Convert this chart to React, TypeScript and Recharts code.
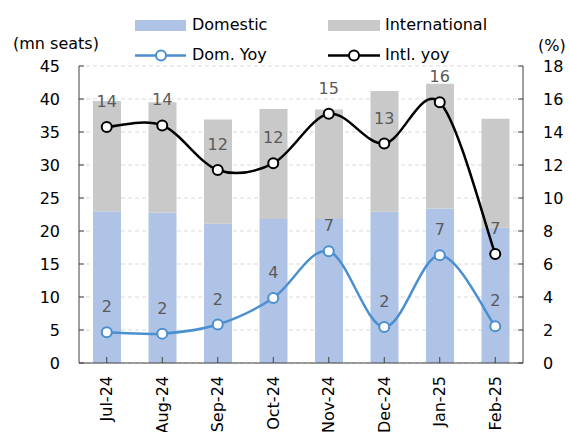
import { ComposedChart, Bar, Line, XAxis, YAxis, CartesianGrid, LabelList } from 'recharts'

const months = ['Jul-24', 'Aug-24', 'Sep-24', 'Oct-24', 'Nov-24', 'Dec-24', 'Jan-25', 'Feb-25']
const domestic = [23.0, 22.8, 21.1, 21.8, 21.8, 22.9, 23.4, 20.5]
const international = [16.7, 16.7, 15.8, 16.7, 16.6, 18.3, 18.9, 16.5]
const domYoy = [1.86, 1.78, 2.33, 3.94, 6.77, 2.18, 6.53, 2.22]
const intlYoy = [14.3, 14.4, 11.7, 12.1, 15.1, 13.3, 15.8, 6.6]
const leftTicks = [0, 5, 10, 15, 20, 25, 30, 35, 40, 45]
const rightTicks = [0, 2, 4, 6, 8, 10, 12, 14, 16, 18]

const data = months.map((m, i) => ({
  month: m,
  domestic: domestic[i],
  international: international[i],
  domYoy: domYoy[i],
  intlYoy: intlYoy[i],
}))

const FONT = '"DejaVu Sans", Verdana, sans-serif'
const AXIS = '#404040'
const DOM = '#aec3e6'
const INTL = '#c9c9c9'
const DOM_LINE = '#4a8fd0'

// excel-style smoothed line (catmull-rom through the points)
const excelCurve = (ctx: any) => {
  let pts: number[][] = []
  return {
    areaStart() {},
    areaEnd() {},
    lineStart() { pts = [] },
    point(x: number, y: number) { pts.push([x, y]) },
    lineEnd() {
      if (!pts.length) return
      ctx.moveTo(pts[0][0], pts[0][1])
      for (let i = 0; i < pts.length - 1; i++) {
        const p0 = pts[Math.max(i - 1, 0)]
        const p1 = pts[i]
        const p2 = pts[i + 1]
        const p3 = pts[Math.min(i + 2, pts.length - 1)]
        ctx.bezierCurveTo(
          p1[0] + (p2[0] - p0[0]) / 6, p1[1] + (p2[1] - p0[1]) / 6,
          p2[0] - (p3[0] - p1[0]) / 6, p2[1] - (p3[1] - p1[1]) / 6,
          p2[0], p2[1]
        )
      }
    },
  }
}

const MonthTick = (props: any) => {
  const { x, y, payload } = props
  return (
    <g transform={`translate(${x},${y})`}>
      <text transform="rotate(-90)" textAnchor="end" dy="0.35em" fontSize={16} fontFamily={FONT} fill="#000">
        {payload.value}
      </text>
    </g>
  )
}

const round = (v: any) => Math.round(Number(v))

export default function App() {
  return (
    <div style={{ position: 'absolute', left: 0, top: 0, width: 570, height: 432, fontFamily: FONT, background: '#fff' }}>
      <div style={{ position: 'absolute', left: 13, top: 34, fontSize: 16 }}>(mn seats)</div>
      <div style={{ position: 'absolute', left: 538, top: 36, fontSize: 16 }}>(%)</div>

      <div style={{ position: 'absolute', left: 135, top: 20, width: 51, height: 11, background: DOM }} />
      <div style={{ position: 'absolute', left: 192, top: 15, fontSize: 16 }}>Domestic</div>
      <div style={{ position: 'absolute', left: 328, top: 20, width: 52, height: 11, background: INTL }} />
      <div style={{ position: 'absolute', left: 385, top: 15, fontSize: 16 }}>International</div>

      <svg style={{ position: 'absolute', left: 0, top: 0 }} width={570} height={70}>
        <line x1={135} x2={186} y1={55.5} y2={55.5} stroke={DOM_LINE} strokeWidth={2.5} />
        <circle cx={161} cy={55.5} r={5} fill="#fff" stroke={DOM_LINE} strokeWidth={2} />
        <line x1={328} x2={380} y1={55.5} y2={55.5} stroke="#000" strokeWidth={2.5} />
        <circle cx={354} cy={55.5} r={5} fill="#fff" stroke="#000" strokeWidth={2} />
      </svg>
      <div style={{ position: 'absolute', left: 192, top: 45, fontSize: 16 }}>Dom. Yoy</div>
      <div style={{ position: 'absolute', left: 385, top: 45, fontSize: 16 }}>Intl. yoy</div>

      <div style={{ position: 'absolute', left: 0, top: 0 }}>
        <ComposedChart width={570} height={432} data={data} margin={{ top: 66, right: 0, bottom: 0, left: 0 }}>
          <CartesianGrid yAxisId="left" vertical={false} stroke="#d9d9d9" strokeDasharray="4 3" />
          <XAxis
            dataKey="month"
            height={69}
            interval={0}
            tick={<MonthTick />}
            tickSize={-6}
            tickMargin={19}
            stroke={AXIS}
          />
          <YAxis
            yAxisId="left"
            width={79}
            domain={[0, 45]}
            ticks={leftTicks}
            tickSize={-5}
            tickMargin={24}
            stroke={AXIS}
            tick={{ fill: '#000', fontSize: 16, fontFamily: FONT }}
          />
          <YAxis
            yAxisId="right"
            orientation="right"
            width={47}
            domain={[0, 18]}
            ticks={rightTicks}
            tickSize={-5}
            tickMargin={25}
            stroke={AXIS}
            tick={{ fill: '#000', fontSize: 16, fontFamily: FONT }}
          />
          <Bar yAxisId="left" dataKey="domestic" stackId="a" fill={DOM} barSize={28} isAnimationActive={false} />
          <Bar yAxisId="left" dataKey="international" stackId="a" fill={INTL} barSize={28} isAnimationActive={false} />
          <Line
            yAxisId="right"
            dataKey="domYoy"
            type={excelCurve as any}
            stroke={DOM_LINE}
            strokeWidth={2.5}
            dot={{ r: 5, fill: '#fff', stroke: DOM_LINE, strokeWidth: 2 }}
            activeDot={false}
            isAnimationActive={false}
          >
            <LabelList dataKey="domYoy" position="top" offset={20} formatter={round} fill="#595959" fontSize={16} fontFamily={FONT} />
          </Line>
          <Line
            yAxisId="right"
            dataKey="intlYoy"
            type={excelCurve as any}
            stroke="#000"
            strokeWidth={2.5}
            dot={{ r: 5, fill: '#fff', stroke: '#000', strokeWidth: 2 }}
            activeDot={false}
            isAnimationActive={false}
          >
            <LabelList dataKey="intlYoy" position="top" offset={20} formatter={round} fill="#595959" fontSize={16} fontFamily={FONT} />
          </Line>
        </ComposedChart>
      </div>
    </div>
  )
}
